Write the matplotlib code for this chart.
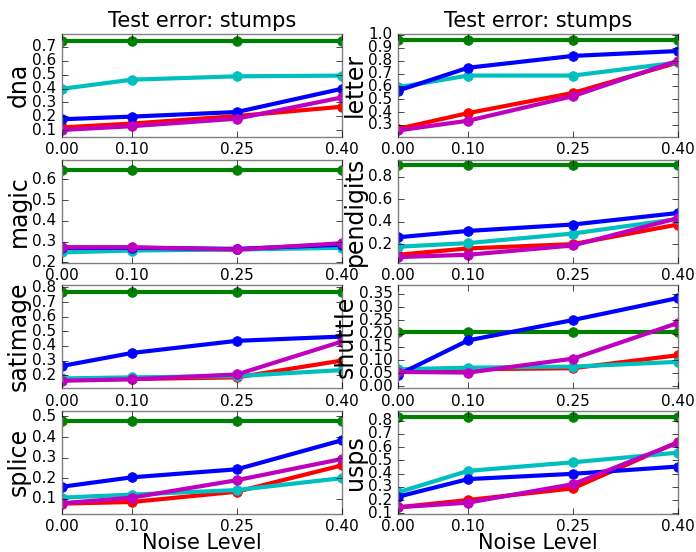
import matplotlib
matplotlib.use('Agg')
import matplotlib.pyplot as plt

plt.style.use('classic')

noise = [0.0, 0.10, 0.25, 0.40]
xtick_labels = ['0.00', '0.10', '0.25', '0.40']

datasets = ['dna', 'letter', 'magic', 'pendigits', 'satimage', 'shuttle', 'splice', 'usps']

# test error per dataset, one list per method (x = noise level)
green = {
    'dna': [0.745, 0.745, 0.745, 0.745],
    'letter': [0.960, 0.960, 0.960, 0.960],
    'magic': [0.646, 0.646, 0.646, 0.646],
    'pendigits': [0.903, 0.903, 0.903, 0.903],
    'satimage': [0.768, 0.768, 0.768, 0.768],
    'shuttle': [0.206, 0.206, 0.206, 0.206],
    'splice': [0.478, 0.478, 0.478, 0.478],
    'usps': [0.825, 0.825, 0.825, 0.825],
}
red = {
    'dna': [0.120, 0.148, 0.202, 0.269],
    'letter': [0.270, 0.392, 0.549, 0.786],
    'magic': [0.268, 0.268, 0.262, 0.280],
    'pendigits': [0.109, 0.165, 0.203, 0.377],
    'satimage': [0.167, 0.174, 0.185, 0.300],
    'shuttle': [0.059, 0.065, 0.069, 0.118],
    'splice': [0.076, 0.084, 0.134, 0.262],
    'usps': [0.145, 0.200, 0.288, 0.638],
}
cyan = {
    'dna': [0.398, 0.464, 0.488, 0.493],
    'letter': [0.593, 0.684, 0.684, 0.786],
    'magic': [0.248, 0.257, 0.262, 0.270],
    'pendigits': [0.180, 0.212, 0.297, 0.426],
    'satimage': [0.178, 0.185, 0.194, 0.235],
    'shuttle': [0.065, 0.071, 0.075, 0.093],
    'splice': [0.105, 0.120, 0.142, 0.200],
    'usps': [0.258, 0.420, 0.485, 0.558],
}
blue = {
    'dna': [0.179, 0.198, 0.231, 0.398],
    'letter': [0.567, 0.745, 0.837, 0.875],
    'magic': [0.270, 0.270, 0.265, 0.285],
    'pendigits': [0.264, 0.320, 0.377, 0.479],
    'satimage': [0.263, 0.352, 0.435, 0.464],
    'shuttle': [0.044, 0.174, 0.251, 0.334],
    'splice': [0.158, 0.204, 0.243, 0.384],
    'usps': [0.225, 0.358, 0.398, 0.453],
}
magenta = {
    'dna': [0.102, 0.129, 0.183, 0.336],
    'letter': [0.257, 0.333, 0.524, 0.800],
    'magic': [0.273, 0.273, 0.262, 0.292],
    'pendigits': [0.088, 0.109, 0.191, 0.434],
    'satimage': [0.162, 0.172, 0.205, 0.430],
    'shuttle': [0.055, 0.0525, 0.105, 0.240],
    'splice': [0.078, 0.105, 0.190, 0.293],
    'usps': [0.145, 0.180, 0.320, 0.633],
}

series = [(green, 'g'), (red, 'r'), (cyan, 'c'), (blue, 'b'), (magenta, 'm')]

fig = plt.figure(figsize=(6.96, 5.52), dpi=100, facecolor='white')

lefts = [0.089, 0.572]
bottoms = [0.752, 0.524, 0.297, 0.069]
w, h = 0.402, 0.187

for k, name in enumerate(datasets):
    row, col = k // 2, k % 2
    ax = fig.add_axes([lefts[col], bottoms[row], w, h])
    lo, hi = 1e9, -1e9
    for d, c in series:
        vals = d[name]
        ax.plot(noise, vals, '-o', color=c, lw=3, ms=7, mec=c, mew=0.5)
        lo = min(lo, min(vals))
        hi = max(hi, max(vals))
    # y range follows the data with a 0.05 margin
    ax.set_ylim(lo - 0.05, hi + 0.05)
    ax.set_xlim(0, 0.4)
    ax.set_xticks(noise)
    ax.set_xticklabels(xtick_labels)
    ax.tick_params(labelsize=11)
    ax.set_ylabel(name, fontsize=17, labelpad=1)
    for s in ax.spines.values():
        s.set_color('0.5')
    if row == 0:
        ax.set_title('Test error: stumps', fontsize=15)
    if row == 3:
        ax.set_xlabel('Noise Level', fontsize=15, labelpad=-1)

fig.savefig('out.png', dpi=100, facecolor='white')
